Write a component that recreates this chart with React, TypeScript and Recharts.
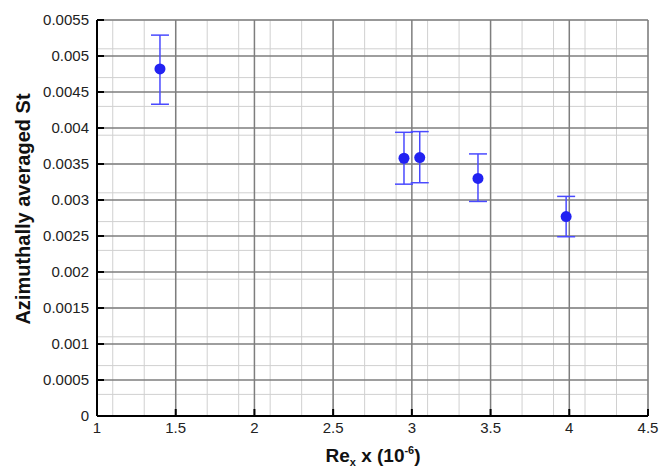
import { ScatterChart, Scatter, XAxis, YAxis, CartesianGrid, ErrorBar } from 'recharts'

// measured points (Re_x in 1e6 units, azimuthally averaged Stanton number)
const reX = [1.4, 2.95, 3.05, 3.42, 3.98]
const stMean = [0.00482, 0.00358, 0.00359, 0.0033, 0.00277]
const stLow = [0.00433, 0.00322, 0.00324, 0.00298, 0.00249]
const stHigh = [0.00529, 0.00394, 0.00395, 0.00364, 0.00305]

const xTicks = [1, 1.5, 2, 2.5, 3, 3.5, 4, 4.5]
const yTicks = [0, 0.0005, 0.001, 0.0015, 0.002, 0.0025, 0.003, 0.0035, 0.004, 0.0045, 0.005, 0.0055]
const yTickLabels = ['0', '0.0005', '0.001', '0.0015', '0.002', '0.0025', '0.003', '0.0035', '0.004', '0.0045', '0.005', '0.0055']

// minor grid every 0.1 on x, every 0.0001 on y
const xMinor = Array.from({ length: 36 }, (_, i) => (10 + i) / 10)
const yMinor = Array.from({ length: 56 }, (_, i) => i / 10000)

const data = reX.map((x, i) => ({
  x,
  y: stMean[i],
  err: [stMean[i] - stLow[i], stHigh[i] - stMean[i]],
}))

const font = '"Liberation Sans", Arial, Helvetica, sans-serif'

const Dot = (p: any) => <circle cx={p.cx} cy={p.cy} r={5.5} fill="#2222f2" />

const YLabel = () => (
  <text
    x={23}
    y={209}
    transform="rotate(-90 23 209)"
    textAnchor="middle"
    dominantBaseline="central"
    fontFamily={font}
    fontWeight="bold"
    fontSize={20}
    fill="#111"
  >
    Azimuthally averaged St
  </text>
)

const XLabel = () => (
  <text x={373} y={462} textAnchor="middle" fontFamily={font} fontWeight="bold" fontSize={19} fill="#111">
    Re
    <tspan fontSize={11} dy={4}>x</tspan>
    <tspan dy={-4}> x (10</tspan>
    <tspan fontSize={11} dy={-8}>-6</tspan>
    <tspan dy={8}>)</tspan>
  </text>
)

export default function App() {
  return (
    <div style={{ position: 'absolute', left: 0, top: 0, background: '#fff' }}>
      <ScatterChart width={667} height={469} margin={{ top: 20, right: 19, bottom: 0, left: 0 }}>
        <CartesianGrid
          horizontalValues={yMinor}
          verticalValues={xMinor}
          stroke="#d0d0d0"
          strokeWidth={1}
        />
        <CartesianGrid
          horizontalValues={yTicks}
          verticalValues={xTicks}
          stroke="#7e7e7e"
          strokeWidth={1.5}
        />
        <XAxis
          type="number"
          dataKey="x"
          domain={[1, 4.5]}
          ticks={xTicks}
          allowDataOverflow
          height={53}
          tickSize={-7}
          tickMargin={13}
          tick={{ fontSize: 15, fill: '#222', fontFamily: font }}
          tickLine={{ stroke: '#000', strokeWidth: 2 }}
          axisLine={{ stroke: '#000', strokeWidth: 2 }}
          label={{ content: () => <XLabel /> }}
        />
        <YAxis
          type="number"
          dataKey="y"
          domain={[0, 0.0055]}
          ticks={yTicks}
          tickFormatter={(v: number) => yTickLabels[yTicks.indexOf(v)] ?? String(v)}
          allowDataOverflow
          width={97}
          tickSize={-7}
          tickMargin={15}
          tick={{ fontSize: 15, fill: '#222', fontFamily: font }}
          tickLine={{ stroke: '#000', strokeWidth: 2 }}
          axisLine={{ stroke: '#000', strokeWidth: 2 }}
          label={{ content: () => <YLabel /> }}
        />
        <Scatter data={data} fill="#2222f2" shape={Dot} isAnimationActive={false}>
          <ErrorBar dataKey="err" direction="y" width={9} stroke="#4a4aff" strokeWidth={1.5} />
        </Scatter>
      </ScatterChart>
    </div>
  )
}
